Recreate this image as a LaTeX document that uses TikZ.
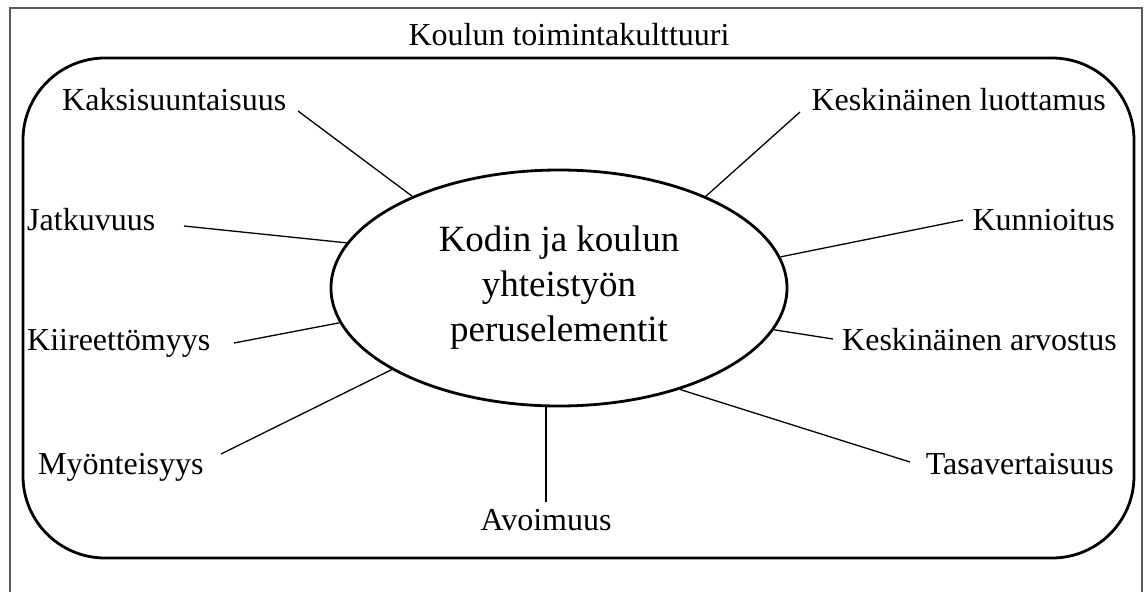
\documentclass[tikz,border=0pt]{standalone}
\usepackage{fontspec}
\setmainfont{Liberation Serif}
\usetikzlibrary{shapes.geometric}
\begin{document}
\begin{tikzpicture}[x=1pt,y=-1pt,
    lbl/.style={inner sep=0pt,font=\fontsize{32}{38}\selectfont},
    spoke/.style={line width=1.3pt}]
    \useasboundingbox (0,0) rectangle (1144,592);
    \draw[line width=1.5pt,black!65] (10,592) -- (10,8) -- (1142,8) -- (1142,592);
    \draw[line width=2.8pt,rounded corners=82pt] (23,58) rectangle (1134,558);
    \node[lbl,anchor=base] (title) at (569,45) {Koulun toimintakulttuuri};
    \node[ellipse,draw,line width=2.8pt,inner sep=0pt,minimum width=456pt,minimum height=236pt,
        align=center,font=\fontsize{37}{45}\selectfont] (elem) at (559,288)
        {Kodin ja koulun\\yhteistyön\\peruselementit};
    % labels round the ellipse
    \node[lbl,anchor=base west] (kaks) at (62,110) {Kaksisuuntaisuus};
    \node[lbl,anchor=base east] (luot) at (1106,110) {Keskinäinen luottamus};
    \node[lbl,anchor=base west] (jatk) at (27,230) {Jatkuvuus};
    \node[lbl,anchor=base east] (kunn) at (1115,230) {Kunnioitus};
    \node[lbl,anchor=base west] (kiir) at (27,350) {Kiireettömyys};
    \node[lbl,anchor=base east] (arvo) at (1117,350) {Keskinäinen arvostus};
    \node[lbl,anchor=base west] (myon) at (38,474) {Myönteisyys};
    \node[lbl,anchor=base east] (tasa) at (1114,474) {Tasavertaisuus};
    \node[lbl,anchor=base] (avoi) at (546,530) {Avoimuus};
    % free ends of the spokes
    \coordinate (kaks-e) at (298,111);
    \coordinate (luot-e) at (800,112);
    \coordinate (jatk-e) at (184,226);
    \coordinate (kunn-e) at (963,220);
    \coordinate (kiir-e) at (234,343);
    \coordinate (arvo-e) at (833,339);
    \coordinate (myon-e) at (221,454);
    \coordinate (tasa-e) at (910,462);
    \coordinate (avoi-e) at (546,502);
    \draw[spoke] (kaks-e) -- (elem.148);
    \draw[spoke] (luot-e) -- (elem.32.5);
    \draw[spoke] (jatk-e) -- (elem.168.5);
    \draw[spoke] (kunn-e) -- (elem.8.4);
    \draw[spoke] (kiir-e) -- (elem.189.4);
    \draw[spoke] (arvo-e) -- (elem.349);
    \draw[spoke] (myon-e) -- (elem.206);
    \draw[spoke] (tasa-e) -- (elem.320);
    \draw[spoke] (avoi-e) -- (avoi-e |- elem.south);
\end{tikzpicture}
\end{document}
